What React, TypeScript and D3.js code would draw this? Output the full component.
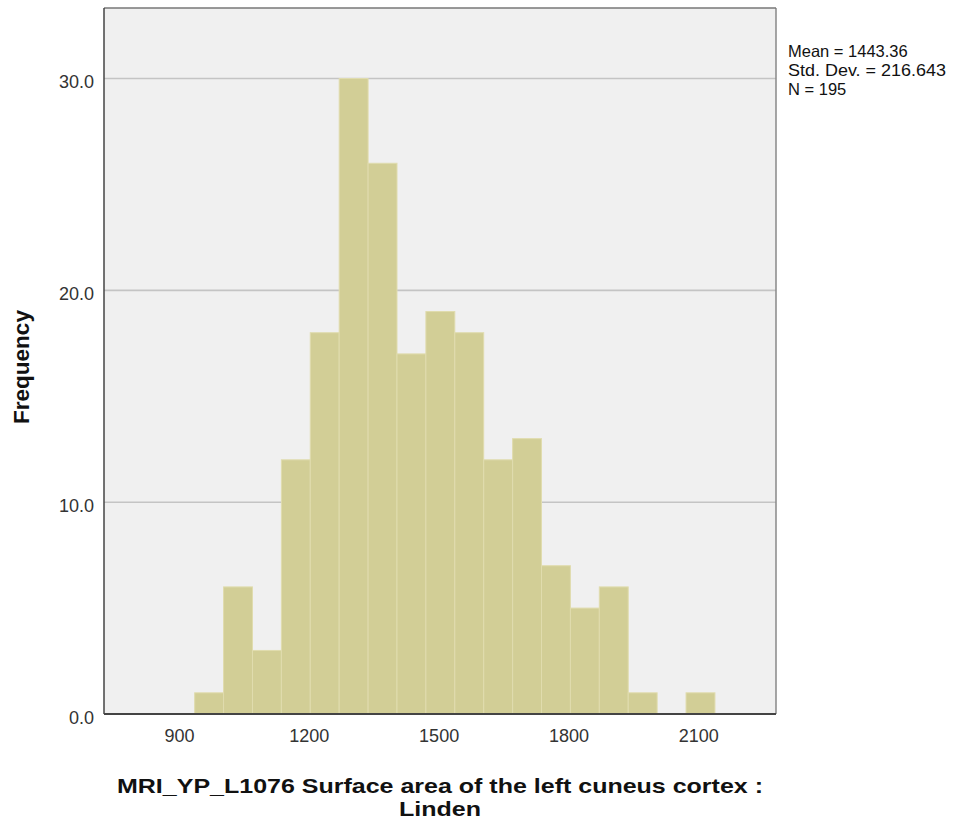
import React from "react";
import * as d3 from "d3";

const binStart = 935;
const binWidth = 66.8;
const counts = [1, 6, 3, 12, 18, 30, 26, 17, 19, 18, 12, 13, 7, 5, 6, 1, 0, 1];
const xTicks = [900, 1200, 1500, 1800, 2100];
const yTicks = [0, 10, 20, 30];
const statsLines = ["Mean = 1443.36", "Std. Dev. = 216.643", "N = 195"];
const xTitle = ["MRI_YP_L1076 Surface area of the left cuneus cortex :", "Linden"];
const yTitle = "Frequency";

const W = 954, H = 823;
const left = 104, right = 776, top = 8, bottom = 714;

export default function App() {
  const x = d3.scaleLinear().domain([725.5, 2278.5]).range([left, right]);
  const y = d3.scaleLinear().domain([0, 33.33]).range([bottom, top]);
  const bins = counts.map((c, i) => ({ x0: binStart + i * binWidth, x1: binStart + (i + 1) * binWidth, c }));
  const font = "'Liberation Sans', Arial, sans-serif";
  const titleLen = [646, 82];
  return (
    <svg width={W} height={H} style={{ position: "absolute", left: 0, top: 0, background: "#fff" }}>
      <rect x={left} y={top} width={right - left} height={bottom - top} fill="#f0f0f0" />
      {yTicks.filter((t) => t > 0).map((t) => (
        <line key={t} x1={left} x2={right} y1={y(t)} y2={y(t)} stroke="#c4c4c4" strokeWidth={1.6} />
      ))}
      {bins.filter((b) => b.c > 0).map((b, i) => (
        <rect
          key={i}
          x={x(b.x0)}
          y={y(b.c)}
          width={x(b.x1) - x(b.x0)}
          height={y(0) - y(b.c)}
          fill="#d2ce96"
          stroke="#e0dcae"
          strokeWidth={1}
        />
      ))}
      <line x1={right} x2={right} y1={top} y2={bottom} stroke="#888" strokeWidth={1.5} />
      <line x1={left} x2={right} y1={top} y2={top} stroke="#777" strokeWidth={1.5} />
      <line x1={left} x2={left} y1={top} y2={bottom} stroke="#444" strokeWidth={1.5} />
      <line x1={left} x2={right} y1={bottom} y2={bottom} stroke="#444" strokeWidth={1.8} />
      {yTicks.map((t) => (
        <text key={t} x={94} y={y(t) + 9.5} textAnchor="end" fontFamily={font} fontSize={18} fill="#333">
          {t.toFixed(1)}
        </text>
      ))}
      {xTicks.map((t) => (
        <text key={t} x={x(t)} y={742} textAnchor="middle" fontFamily={font} fontSize={18} fill="#333">
          {t}
        </text>
      ))}
      {statsLines.map((s, i) => (
        <text key={i} x={788} y={57 + i * 19} fontFamily={font} fontSize={16.5} fill="#111"
          textLength={i === 1 ? 158 : undefined} lengthAdjust="spacingAndGlyphs">
          {s}
        </text>
      ))}
      <text
        transform={`translate(29,367) rotate(-90)`}
        textAnchor="middle"
        fontFamily={font}
        fontSize={22.5}
        fontWeight="bold"
        fill="#111"
      >
        {yTitle}
      </text>
      {xTitle.map((s, i) => (
        <text key={i} x={440} y={793 + i * 23} textAnchor="middle" fontFamily={font} fontSize={20.5} fontWeight="bold" fill="#111"
          textLength={titleLen[i]} lengthAdjust="spacingAndGlyphs">
          {s}
        </text>
      ))}
    </svg>
  );
}
